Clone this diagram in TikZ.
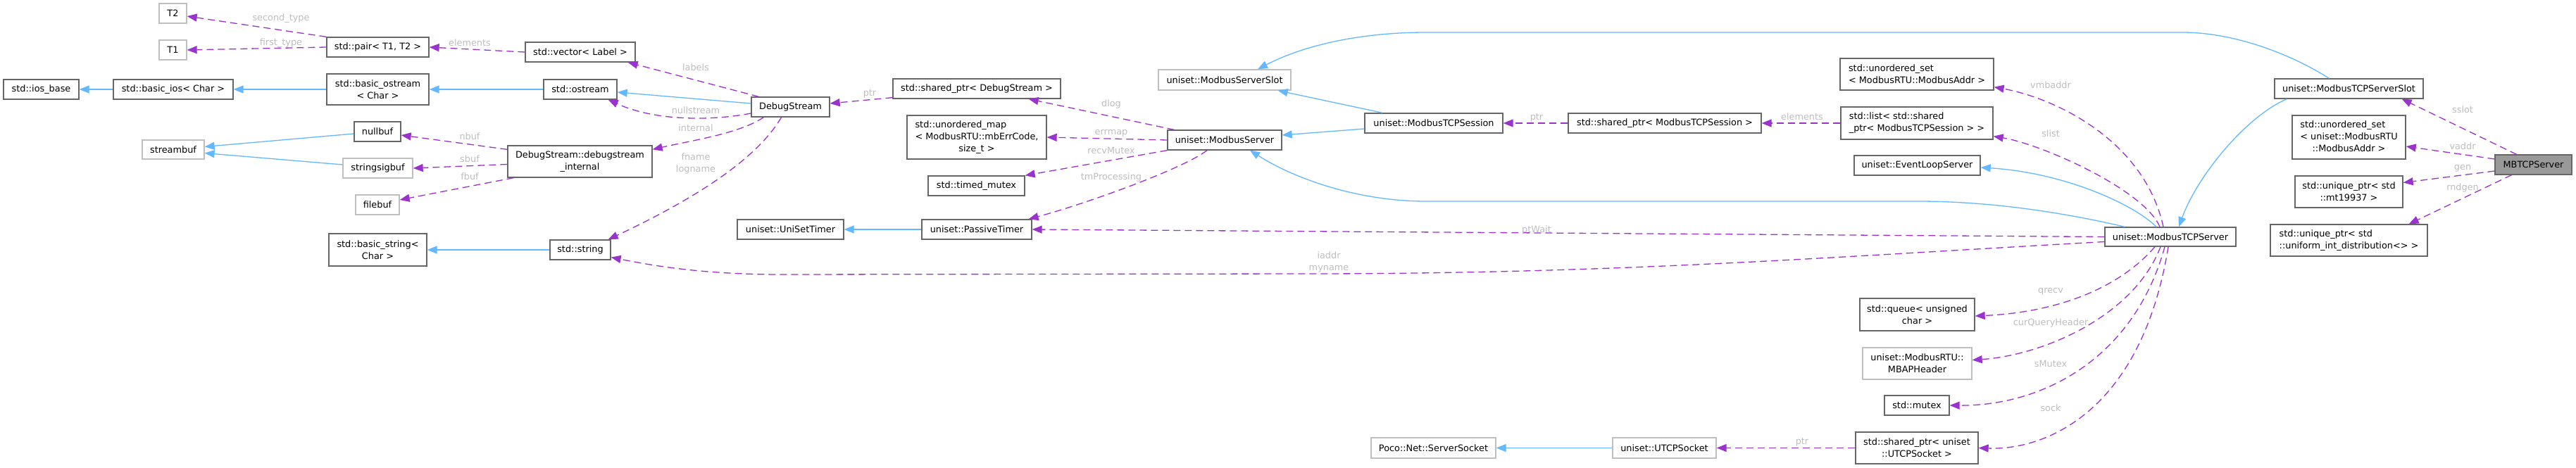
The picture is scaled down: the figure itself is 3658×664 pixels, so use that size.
\documentclass[tikz,border=0pt]{standalone}
\usepackage{fontspec}
\setmainfont{DejaVu Sans}
\usetikzlibrary{arrows.meta,calc}
\definecolor{boxdark}{HTML}{666666}
\definecolor{boxlight}{HTML}{BFBFBF}
\definecolor{inhblue}{HTML}{63B8FF}
\definecolor{mempurple}{HTML}{9A32CD}
\definecolor{lblgrey}{HTML}{BEBEBE}
\definecolor{curfill}{HTML}{999999}
\begin{document}
\begin{tikzpicture}[x=1pt,y=-1pt,
  every node/.style={font=\fontsize{12.85}{17}\selectfont, inner sep=1pt},
  cls/.style={draw=boxdark, line width=1.3pt, fill=white, align=center},
  ucls/.style={draw=boxlight, line width=1.3pt, fill=white, align=center},
  inh/.style={draw=inhblue, line width=1.3pt, -{Triangle[length=14pt,width=11pt]}},
  mem/.style={draw=mempurple, line width=1.3pt, dash pattern=on 10pt off 6pt, -{Triangle[length=14pt,width=11pt]}},
  lbl/.style={text=lblgrey, align=center, inner sep=0pt},
  sz/.style 2 args={minimum width=#1pt, minimum height=#2pt},
]
\useasboundingbox[fill=white] (0,0) rectangle (3658,664);

% ---- nodes ----
\node[ucls, sz={39}{28}] (T2) at (245.5,19) {T2};
\node[ucls, sz={39}{28}] (T1) at (245.5,71) {T1};
\node[cls, sz={145}{28}] (pair) at (536.5,67) {std::pair< T1, T2 >};
\node[cls, sz={107}{28}] (iosbase) at (58.5,127) {std::ios\_base};
\node[cls, sz={170}{28}] (basicios) at (246,127) {std::basic\_ios< Char >};
\node[cls, sz={145}{44}] (bostream) at (536.5,127) {std::basic\_ostream\\< Char >};
\node[ucls, sz={88}{27}] (streambuf) at (246,212.5) {streambuf};
\node[cls, sz={66}{28}] (nullbuf) at (536,187) {nullbuf};
\node[ucls, sz={99}{28}] (stringsigbuf) at (536.5,239) {stringsigbuf};
\node[ucls, sz={62}{28}] (filebuf) at (536,291) {filebuf};
\node[cls, sz={139}{46}] (bstring) at (536.5,355) {std::basic\_string<\\Char >};
\node[cls, sz={156}{28}] (vector) at (824,74) {std::vector< Label >};
\node[cls, sz={104}{28}] (ostream) at (824,127) {std::ostream};
\node[cls, sz={205}{45}] (dsi) at (823.5,229.5) {DebugStream::debugstream\\\_internal};
\node[cls, sz={86}{28}] (string) at (824,355) {std::string};
\node[cls, sz={111}{28}] (dbg) at (1122.5,152) {DebugStream};
\node[cls, sz={238}{28}] (spdbg) at (1387,126) {std::shared\_ptr< DebugStream >};
\node[cls, sz={198}{62}] (umap) at (1387,195) {\begin{tabular}{@{}l@{}}std::unordered\_map\\< ModbusRTU::mbErrCode,\\\multicolumn{1}{@{}c@{}}{size\_t >}\end{tabular}};
\node[cls, sz={137}{28}] (tmutex) at (1386.5,264) {std::timed\_mutex};
\node[cls, sz={151}{28}] (unisettimer) at (1122.5,326) {uniset::UniSetTimer};
\node[cls, sz={156}{28}] (ptimer) at (1387,326) {uniset::PassiveTimer};
\node[ucls, sz={188}{29}] (mbslot) at (1739,113.5) {uniset::ModbusServerSlot};
\node[cls, sz={162}{28}] (mbserver) at (1739,199) {uniset::ModbusServer};
\node[cls, sz={196}{28}] (tcpsession) at (2036,175) {uniset::ModbusTCPSession};
\node[cls, sz={274}{28}] (spsession) at (2364,175) {std::shared\_ptr< ModbusTCPSession >};
\node[cls, sz={218}{45}, align=left] (uset1) at (2722,105.5) {std::unordered\_set\\< ModbusRTU::ModbusAddr >};
\node[cls, sz={216}{46}, align=left] (list) at (2722,175) {std::list< std::shared\\\_ptr< ModbusTCPSession > >};
\node[cls, sz={179}{28}] (eventloop) at (2722.5,235) {uniset::EventLoopServer};
\node[cls, sz={163}{46}] (queue) at (2722.5,447) {std::queue< unsigned\\char >};
\node[ucls, sz={155}{45}] (mbap) at (2722.5,516.5) {uniset::ModbusRTU::\\MBAPHeader};
\node[cls, sz={92}{28}] (mutex) at (2722,576) {std::mutex};
\node[cls, sz={174}{45}] (spsock) at (2722,636.5) {std::shared\_ptr< uniset\\::UTCPSocket >};
\node[ucls, sz={147}{29}] (utcpsock) at (2363.5,636.5) {uniset::UTCPSocket};
\node[ucls, sz={177}{29}] (serversocket) at (2035.5,636.5) {Poco::Net::ServerSocket};
\node[cls, sz={186}{27}] (tcpserver) at (3082,336.5) {uniset::ModbusTCPServer};
\node[cls, sz={211}{28}] (tcpslot) at (3335.5,126) {uniset::ModbusTCPServerSlot};
\node[cls, sz={161}{62}] (uset2) at (3335.5,195) {\begin{tabular}{@{}l@{}}std::unordered\_set\\< uniset::ModbusRTU\\\multicolumn{1}{@{}c@{}}{::ModbusAddr >}\end{tabular}};
\node[cls, sz={153}{45}] (uptr1) at (3335.5,272.5) {std::unique\_ptr< std\\::mt19937 >};
\node[cls, sz={223}{45}, align=left] (uptr2) at (3335.5,341.5) {std::unique\_ptr< std\\::uniform\_int\_distribution<> >};
\node[cls, sz={109}{28}, fill=curfill] (mbtcp) at (3597.5,234) {MBTCPServer};

% ---- inheritance ----
\draw[inh] (basicios.west) -- (iosbase.east);
\draw[inh] (bostream.west) -- (basicios.east);
\draw[inh] (ostream.west) -- (bostream.east);
\draw[inh] ($(dbg.west)+(0,-5)$) -- ($(ostream.east)+(0,4)$);
\draw[inh] ($(nullbuf.west)+(0,3)$) -- ($(streambuf.east)+(0,-4)$);
\draw[inh] ($(stringsigbuf.west)+(0,-5)$) -- ($(streambuf.east)+(0,5)$);
\draw[inh] (string.west) -- (bstring.east);
\draw[inh] (ptimer.west) -- (unisettimer.east);
\draw[inh] ($(tcpsession.north west)+(26,0)$) -- ($(mbslot.south east)+(-19,0)$);
\draw[inh] ($(tcpsession.west)+(0,8)$) -- ($(mbserver.east)+(0,-7)$);
\draw[inh] ($(tcpslot.north)+(-28,0)$) .. controls (3250,75) and (3170,46) .. (3099,46) -- (2025,46) .. controls (1930,46) and (1850,65) .. ($(mbslot.north)+(47,0)$);
\draw[inh] ($(tcpserver.north west)+(29,0)$) .. controls (2900,295) and (2800,286) .. (2724,286) -- (2025,286) .. controls (1930,286) and (1840,255) .. ($(mbserver.south)+(36,0)$);
\draw[inh] ($(tcpserver.north)+(-20,0)$) .. controls (3030,290) and (2930,245) .. ($(eventloop.east)+(0,3)$);
\draw[inh] ($(tcpslot.south west)+(18,0)$) .. controls (3190,165) and (3120,250) .. ($(tcpserver.north)+(12,0)$);
\draw[inh] (utcpsock.west) -- (serversocket.east);

% ---- members ----
\draw[mem] (pair.north west) -- ($(T2.east)+(0,4)$);
\draw[mem] (pair.west) -- (T1.east);
\draw[mem] (vector.west) -- (pair.east);
\draw[mem] ($(dbg.north west)+(11,0)$) -- ($(vector.south east)+(-11,0)$);
\draw[mem] ($(dbg.west)+(0,9)$) .. controls (1010,172) and (930,172) .. ($(ostream.south east)+(-13,0)$);
\draw[mem] ($(dbg.south west)+(18,0)$) .. controls (1050,190) and (980,200) .. ($(dsi.north east)+(0,6)$);
\draw[mem] ($(dbg.south)+(-13,0)$) .. controls (1070,235) and (960,295) .. ($(string.north east)+(-4,0)$);
\draw[mem] ($(dsi.north west)+(0,6)$) -- ($(nullbuf.east)+(0,5)$);
\draw[mem] ($(dsi.west)+(0,4)$) -- (stringsigbuf.east);
\draw[mem] ($(dsi.south west)+(9,0)$) -- ($(filebuf.east)+(0,-7)$);
\draw[mem] ($(spdbg.south west)+(0,-2)$) -- ($(dbg.east)+(0,-5)$);
\draw[mem] ($(mbserver.north west)+(10,0)$) -- ($(spdbg.south east)+(-46,0)$);
\draw[mem] (mbserver.west) -- (umap.east);
\draw[mem] (mbserver.south west) -- (tmutex.north east);
\draw[mem] ($(mbserver.south)+(-25,0)$) .. controls (1680,240) and (1540,290) .. ($(ptimer.north east)+(-5,0)$);
\draw[mem] (spsession.west) -- (tcpsession.east);
\draw[mem] (list.west) -- (spsession.east);
\draw[mem] ($(tcpserver.north)+(-10,0)$) .. controls (3045,200) and (2920,140) .. ($(uset1.south east)+(0,-5)$);
\draw[mem] ($(tcpserver.north)+(-15,0)$) .. controls (3045,270) and (2900,205) .. ($(list.south east)+(0,-5)$);
\draw[mem] (tcpserver.west) -- (ptimer.east);
\draw[mem] ($(tcpserver.west)+(0,7)$) .. controls (2600,365) and (2300,389) .. (1857,389) -- (1110,390) .. controls (1000,390) and (930,378) .. ($(string.south east)+(0,-4)$);
\draw[mem] ($(tcpserver.south)+(-22,0)$) .. controls (3000,420) and (2900,445) .. ($(queue.east)+(0,2)$);
\draw[mem] ($(tcpserver.south)+(-14,0)$) .. controls (3030,450) and (2900,505) .. ($(mbap.east)+(0,-5)$);
\draw[mem] ($(tcpserver.south)+(-8,0)$) .. controls (3030,510) and (2900,577) .. (mutex.east);
\draw[mem] ($(tcpserver.south)+(-3,0)$) .. controls (3040,590) and (2900,640) .. (spsock.east);
\draw[mem] (spsock.west) -- (utcpsock.east);
\draw[mem] ($(mbtcp.north)+(-24,0)$) -- ($(tcpslot.south east)+(-31,0)$);
\draw[mem] ($(mbtcp.west)+(0,-8)$) -- ($(uset2.east)+(0,13)$);
\draw[mem] ($(mbtcp.west)+(0,9)$) -- ($(uptr1.east)+(0,-13)$);
\draw[mem] ($(mbtcp.south)+(-31,0)$) -- ($(uptr2.north east)+(-27,0)$);

% ---- labels ----
\node[lbl] (l1) at (399,26) {second\_type};
\node[lbl] (l2) at (399,61) {first\_type};
\node[lbl] (l3) at (667,61) {elements};
\node[lbl] (l4) at (667,194) {nbuf};
\node[lbl] (l5) at (667,226) {sbuf};
\node[lbl] (l6) at (667,251) {fbuf};
\node[lbl] (l7) at (988,96) {labels};
\node[lbl] (l8) at (988,157) {nullstream};
\node[lbl] (l9) at (988,182) {internal};
\node[lbl] (l10) at (988,232) {fname\\logname};
\node[lbl] (l11) at (1235,133) {ptr};
\node[lbl] (l12) at (1578,148) {dlog};
\node[lbl] (l13) at (1578,189) {errmap};
\node[lbl] (l14) at (1578,214) {recvMutex};
\node[lbl] (l15) at (1578,252) {tmProcessing};
\node[lbl] (l16) at (2182,167) {ptr};
\node[lbl] (l17) at (2182,327) {ptWait};
\node[lbl] (l18) at (1887,372) {iaddr\\myname};
\node[lbl] (l19) at (2559,166) {elements};
\node[lbl] (l20) at (2912,121) {vmbaddr};
\node[lbl] (l21) at (2912,190) {slist};
\node[lbl] (l22) at (2912,414) {qrecv};
\node[lbl] (l23) at (2912,459) {curQueryHeader};
\node[lbl] (l24) at (2912,517) {sMutex};
\node[lbl] (l25) at (2912,580) {sock};
\node[lbl] (l26) at (2559,628) {ptr};
\node[lbl] (l27) at (3497,156) {sslot};
\node[lbl] (l28) at (3497,208) {vaddr};
\node[lbl] (l29) at (3497,239) {gen};
\node[lbl] (l30) at (3497,267) {rndgen};
\end{tikzpicture}
\end{document}
